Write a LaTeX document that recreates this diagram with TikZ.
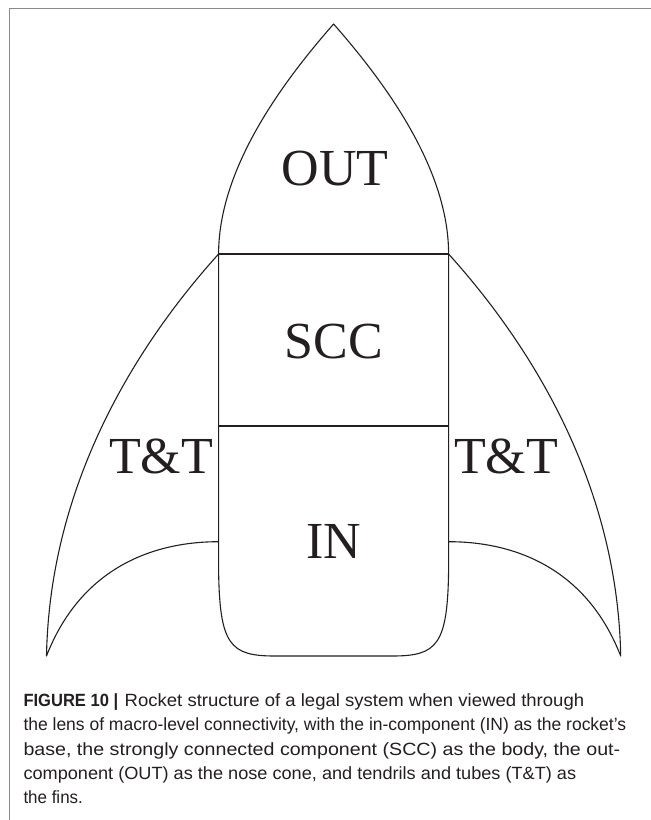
\documentclass[tikz,border=0pt]{standalone}
\usepackage{fontspec}
\setmainfont{Liberation Serif}
\newfontfamily\capfont{Liberation Sans}
\usepackage{graphicx}
\definecolor{ink}{HTML}{231F20}
\definecolor{framegray}{HTML}{8A8A8A}
\tikzset{
  outline/.style={draw=ink, line width=1.1pt, line join=round},
  partlabel/.style={inner sep=0pt, anchor=base, text=ink, font=\fontsize{52}{52}\selectfont},
  capline/.style={inner sep=0pt, anchor=base west, text=ink, font=\capfont\fontsize{17.7}{20}\selectfont},
}
\newcommand{\capfit}[2]{\resizebox{#1pt}{\height}{#2}}
\begin{document}
\begin{tikzpicture}[x=1pt,y=-1pt]
\useasboundingbox (0,0) rectangle (651,820);
% frame
\draw[framegray, line width=1.3pt] (9.3,820) -- (9.3,8.3) -- (651,8.3);
% nose cone
\path[outline] (218.6,254) .. controls (218.6,170) and (280,85) .. (333.6,24)
   .. controls (387.2,85) and (448.6,170) .. (448.6,254);
% body
\path[outline] (218.6,254) -- (448.6,254);
\path[outline] (218.6,426) -- (448.6,426);
\path[outline] (218.6,254) -- (218.6,570) .. controls (219.6,645) and (230,656) .. (275,656)
   -- (392.2,656) .. controls (437.2,656) and (447.6,645) .. (448.6,570) -- (448.6,254);
% left fin
\path[outline] (218.6,254) .. controls (150,330) and (50,470) .. (46.5,656)
   .. controls (80,570) and (150,541.7) .. (218.6,541.7);
% right fin
\path[outline] (448.6,254) .. controls (517.2,330) and (617.2,470) .. (620.7,656)
   .. controls (587.2,570) and (517.2,541.7) .. (448.6,541.7);
% labels
\node[partlabel] (out) at (335,185) {OUT};
\node[partlabel] (scc) at (334,358) {SCC};
\node[partlabel] (in) at (333.6,558) {IN};
\node[partlabel] (ttl) at (161,473.3) {T\&T};
\node[partlabel] (ttr) at (506.2,473.3) {T\&T};
% caption
\node[capline] (c1) at (23.3,706.7) {\capfit{94.7}{\textbf{FIGURE 10 |}}\hspace{6.5pt}\capfit{459.5}{Rocket structure of a legal system when viewed through}};
\node[capline] (c2) at (23.3,730.7) {\capfit{602.7}{the lens of macro-level connectivity, with the in-component (IN) as the rocket’s}};
\node[capline] (c3) at (23.3,755) {\capfit{596.7}{base, the strongly connected component (SCC) as the body, the out-}};
\node[capline] (c4) at (23.3,779) {\capfit{552.7}{component (OUT) as the nose cone, and tendrils and tubes (T\&T) as}};
\node[capline] (c5) at (23.3,803) {\capfit{59.4}{the fins.}};
\end{tikzpicture}
\end{document}
